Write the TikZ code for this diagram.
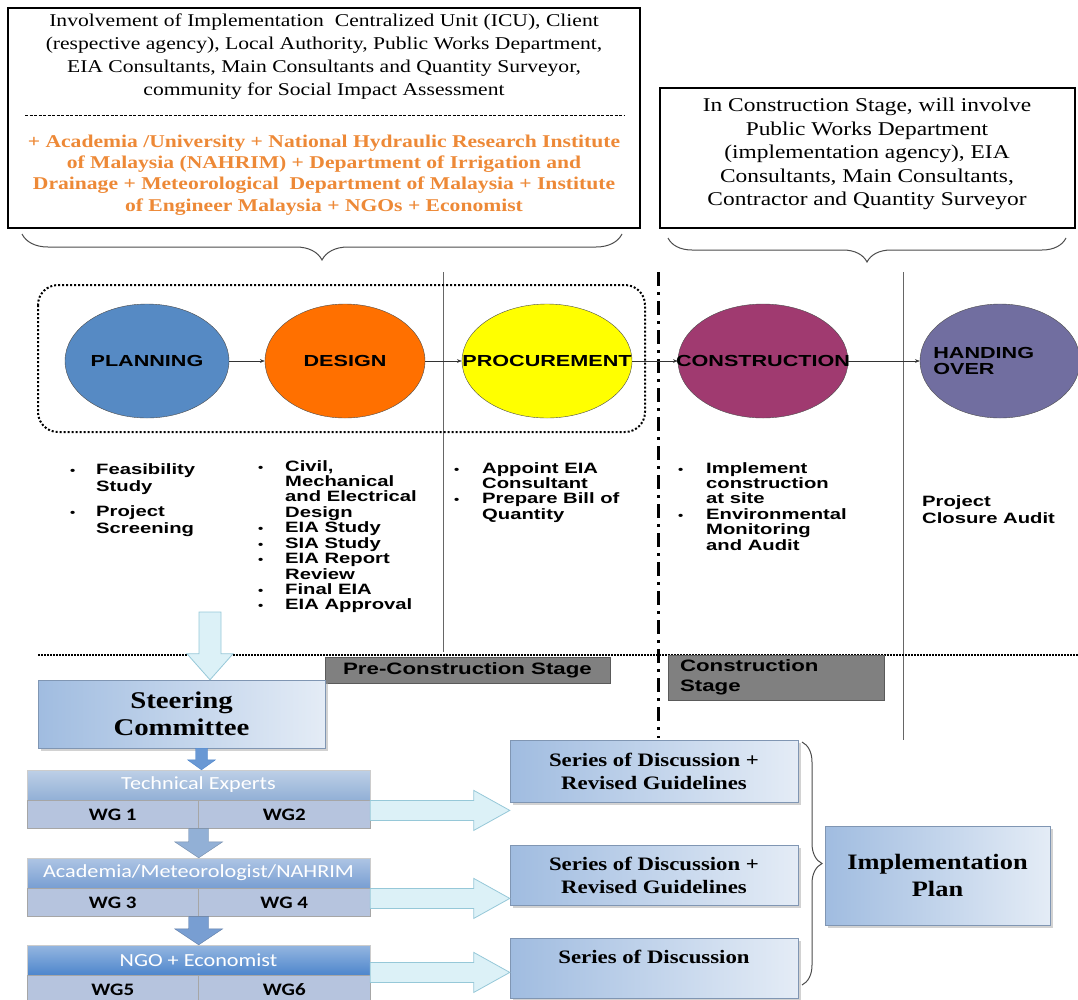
\documentclass[tikz,border=0pt]{standalone}
\usepackage{fontspec}
\setmainfont{Liberation Serif}[FakeStretch=1.2]
\setsansfont{Liberation Sans}[FakeStretch=1.35]
\newfontfamily\calfont{Carlito}[FakeStretch=1.2]
\usetikzlibrary{shapes.geometric, arrows.meta, positioning, calc, shadows, decorations.pathreplacing}

\definecolor{planblue}{RGB}{86,138,196}
\definecolor{desorange}{RGB}{255,112,0}
\definecolor{procyellow}{RGB}{255,255,0}
\definecolor{conmaroon}{RGB}{160,58,112}
\definecolor{handpurple}{RGB}{113,110,160}
\definecolor{acadorange}{RGB}{237,137,55}
\definecolor{stagegray}{RGB}{128,128,128}
\definecolor{boxdark}{RGB}{160,188,224}
\definecolor{boxlight}{RGB}{228,236,246}
\definecolor{hdrone}{RGB}{146,176,214}
\definecolor{hdrtwo}{RGB}{120,158,210}
\definecolor{hdrthree}{RGB}{78,134,204}
\definecolor{wgfill}{RGB}{182,196,222}
\definecolor{palefill}{RGB}{220,241,247}
\definecolor{paleline}{RGB}{150,200,216}

\newcommand{\bul}{{\fontsize{11}{11}\selectfont\textbullet}}

\begin{document}
\begin{tikzpicture}[x=1pt, y=-1pt,
		>=Stealth,
		topbox/.style={draw, line width=1.2pt},
		phase/.style={draw=black!70, ellipse, minimum height=114pt, inner sep=0pt,
			font=\sffamily\bfseries\fontsize{16}{16}\selectfont},
		phasetxt/.style={font=\sffamily\bfseries\fontsize{16}{16}\selectfont},
		bullets/.style={anchor=base west, inner sep=0pt,
			font=\sffamily\bfseries\fontsize{15}{15.3}\selectfont},
		stage/.style={fill=stagegray, draw=stagegray!70!black,
			font=\sffamily\bfseries\fontsize{16.5}{20}\selectfont},
		bluebox/.style={draw=boxdark!80!black, left color=boxdark, right color=boxlight,
			drop shadow={shadow xshift=3pt, shadow yshift=-3pt, fill=black!35},
			font=\bfseries\fontsize{19}{23}\selectfont, align=center},
		hdr/.style={draw=white!60!gray, minimum width=343pt, minimum height=30pt, text=white,
			font=\calfont\fontsize{18.5}{20}\selectfont},
		wg/.style={draw=gray!70, fill=wgfill, minimum width=171.5pt, minimum height=28pt,
			font=\calfont\bfseries\fontsize{17.5}{20}\selectfont},
		arr/.style={->, black!80},
		curly/.style={decorate, decoration={brace, amplitude=#1}, line width=1pt, black!70},
		curlydown/.style={decorate, decoration={brace, mirror, amplitude=#1}, line width=1pt, black!70},
		pale/.style={fill=palefill, draw=paleline, line width=0.8pt},
		hfat/.style n args={3}{to path={($(\tikztostart)+(0,-#1)$) -- ($(\tikztotarget)+(-#3,-#1)$)
			-- ($(\tikztotarget)+(-#3,-#2)$) -- (\tikztotarget) -- ($(\tikztotarget)+(-#3,#2)$)
			-- ($(\tikztotarget)+(-#3,#1)$) -- ($(\tikztostart)+(0,#1)$) -- cycle}},
		vfat/.style n args={3}{to path={($(\tikztostart)+(-#1,0)$) -- ($(\tikztotarget)+(-#1,-#3)$)
			-- ($(\tikztotarget)+(-#2,-#3)$) -- (\tikztotarget) -- ($(\tikztotarget)+(#2,-#3)$)
			-- ($(\tikztotarget)+(#1,-#3)$) -- ($(\tikztostart)+(#1,0)$) -- cycle}},
	]
		\useasboundingbox (0,0) rectangle (1078,999);

		% Involvement boxes
		\node[topbox, minimum width=632pt, minimum height=220pt] (box1) at (324,118) {};
		\node[font=\fontsize{18}{23}\selectfont, align=center] (invtext) at (324,56.5)
			{Involvement of Implementation~ Centralized Unit (ICU), Client\\(respective agency), Local Authority, Public Works Department,\\EIA Consultants, Main Consultants and Quantity Surveyor,\\community for Social Impact Assessment};
		\draw[dash pattern=on 3pt off 1.5pt] (25,115) -- (625,115);
		\node[font=\bfseries\fontsize{18}{21.3}\selectfont, text=acadorange, align=center] (acadtext) at (324,175)
			{+ Academia /University + National Hydraulic Research Institute\\of Malaysia (NAHRIM) + Department of Irrigation and\\Drainage + Meteorological~ Department of Malaysia + Institute\\of Engineer Malaysia + NGOs + Economist};

		\node[topbox, minimum width=415pt, minimum height=140pt] (box2) at (867.5,158) {};
		\node[font=\fontsize{19.5}{23.5}\selectfont, align=center] (context) at (867,154)
			{In Construction Stage, will involve\\Public Works Department\\(implementation agency), EIA\\Consultants, Main Consultants,\\Contractor and Quantity Surveyor};

		\draw[curlydown=26pt] (22,234) -- (622,234);
		\draw[curlydown=24pt] (668,238) -- (1066,238);

		% Stage dividers
		\draw[black!60, line width=0.9pt] (443,272) -- (443,652);
		\draw[black!60, line width=0.9pt] (903,272) -- (903,740);
		\draw[line width=3pt, dash pattern=on 14pt off 6pt on 3pt off 6pt] (658,272) -- (658,738);
		\draw[line width=2pt, dash pattern=on 2pt off 2pt, rounded corners=20pt] (38,285) rectangle (645,432);
		\draw[line width=1.5pt, dash pattern=on 1.5pt off 1.5pt] (38,655) -- (1078,655);

		% Project phases
		\node[phase, fill=planblue, minimum width=164pt] (plan) at (147,361) {\makebox[0pt]{PLANNING}};
		\node[phase, fill=desorange, minimum width=160pt] (design) at (345,361) {\makebox[0pt]{DESIGN}};
		\node[phase, fill=procyellow, minimum width=170pt] (proc) at (547,361) {\makebox[0pt]{PROCUREMENT}};
		\node[phase, fill=conmaroon, minimum width=170pt] (constr) at (763,361) {\makebox[0pt]{CONSTRUCTION}};
		\node[phase, fill=handpurple, minimum width=160pt,
			label={[phasetxt, anchor=west, xshift=10pt, align=left]west:HANDING\\OVER}] (hand) at (1000,361) {};

		\draw[arr] (plan) -- (design);
		\draw[arr] (design) -- (proc);
		\draw[arr] (proc) -- (constr);
		\draw[arr] (constr) -- (hand);

		% Activities
		\node[bullets, font=\sffamily\bfseries\fontsize{15}{17}\selectfont] (planlist) at (70,474)
			{\begin{tabular}[t]{@{}p{26pt}@{}l@{}}\bul & Feasibility\\ & Study\\[8pt] \bul & Project\\ & Screening\end{tabular}};
		\node[bullets] (designlist) at (258,471)
			{\begin{tabular}[t]{@{}p{27pt}@{}l@{}}\bul & Civil,\\ & Mechanical\\ & and Electrical\\ & Design\\ \bul & EIA Study\\ \bul & SIA Study\\ \bul & EIA Report\\ & Review\\ \bul & Final EIA\\ \bul & EIA Approval\end{tabular}};
		\node[bullets] (proclist) at (454,473)
			{\begin{tabular}[t]{@{}p{28pt}@{}l@{}}\bul & Appoint EIA\\ & Consultant\\ \bul & Prepare Bill of\\ & Quantity\end{tabular}};
		\node[bullets] (conlist) at (678,473)
			{\begin{tabular}[t]{@{}p{28pt}@{}l@{}}\bul & Implement\\ & construction\\ & at site\\ \bul & Environmental\\ & Monitoring\\ & and Audit\end{tabular}};
		\node[bullets, font=\sffamily\bfseries\fontsize{15}{17}\selectfont] (handlist) at (922,506)
			{\begin{tabular}[t]{@{}l@{}}Project\\Closure Audit\end{tabular}};

		% Stage labels
		\node[stage, minimum width=285pt, minimum height=26pt] (prestage) at (467.5,670) {Pre-Construction Stage};
		\node[stage, text width=192pt, inner xsep=12pt, minimum height=45pt, align=left] (constage) at (776,677.5) {Construction\\Stage};

		% Committee and working groups
		\node[bluebox, minimum width=287pt, minimum height=68pt, font=\bfseries\fontsize{24}{27}\selectfont] (steer) at (181.5,714) {Steering\\Committee};

		\node[hdr, top color=hdrone!60!white, bottom color=hdrone] (tech) at (198.5,785) {Technical Experts};
		\node[wg, below right=0pt and 0pt of tech.south west] (wg1) {WG 1};
		\node[wg, below left=0pt and 0pt of tech.south east] (wg2) {WG2};

		\node[hdr, top color=hdrtwo!60!white, bottom color=hdrtwo] (acad) at (198.5,873) {Academia/Meteorologist/NAHRIM};
		\node[wg, below right=0pt and 0pt of acad.south west] (wg3) {WG 3};
		\node[wg, below left=0pt and 0pt of acad.south east] (wg4) {WG 4};

		\node[hdr, top color=hdrthree!60!white, bottom color=hdrthree] (ngo) at (198.5,960) {NGO + Economist};
		\node[wg, below right=0pt and 0pt of ngo.south west] (wg5) {WG5};
		\node[wg, below left=0pt and 0pt of ngo.south east] (wg6) {WG6};

		\coordinate (feedtop) at (210,612);
		\draw[pale, vfat={11}{23}{26}] (feedtop) to (feedtop |- steer.north);
		\draw[fill=hdrthree!85, draw=hdrthree, vfat={6}{14}{10}] ([xshift=20pt]steer.south) to ([xshift=20pt]steer.south |- tech.north);
		\draw[fill=hdrone, draw=hdrone!80!black, vfat={10}{24}{16}] (wg1.south east) to (wg1.south east |- acad.north);
		\draw[fill=hdrtwo, draw=hdrtwo!80!black, vfat={10}{24}{16}] (wg3.south east) to (wg3.south east |- ngo.north);

		% Discussions and plan
		\node[bluebox, minimum width=288pt, minimum height=62pt] (disc1) at (654,771) {Series of Discussion +\\Revised Guidelines};
		\node[bluebox, minimum width=288pt, minimum height=60pt] (disc2) at (654,875) {Series of Discussion +\\Revised Guidelines};
		\node[bluebox, minimum width=288pt, minimum height=60pt] (disc3) at (654,968) {Series of Discussion\\\mbox{}};
		\node[bluebox, minimum width=225pt, minimum height=99pt, font=\bfseries\fontsize{22}{27}\selectfont] (impl) at (937.5,875.5) {Implementation\\Plan};

		\draw[pale, hfat={10}{20}{36}] ($(wg2.east)+(0,-4)$) to ($(disc1.west |- wg2.east)+(0,-4)$);
		\draw[pale, hfat={10}{20}{36}] ($(wg4.east)+(0,-4)$) to ($(disc2.west |- wg4.east)+(0,-4)$);
		\draw[pale, hfat={10}{20}{36}] ($(wg6.east)+(0,-17)$) to ($(disc3.west |- wg6.east)+(0,-17)$);

		\draw[curly=20pt] (802,742) -- (802,985);
	\end{tikzpicture}
\end{document}
